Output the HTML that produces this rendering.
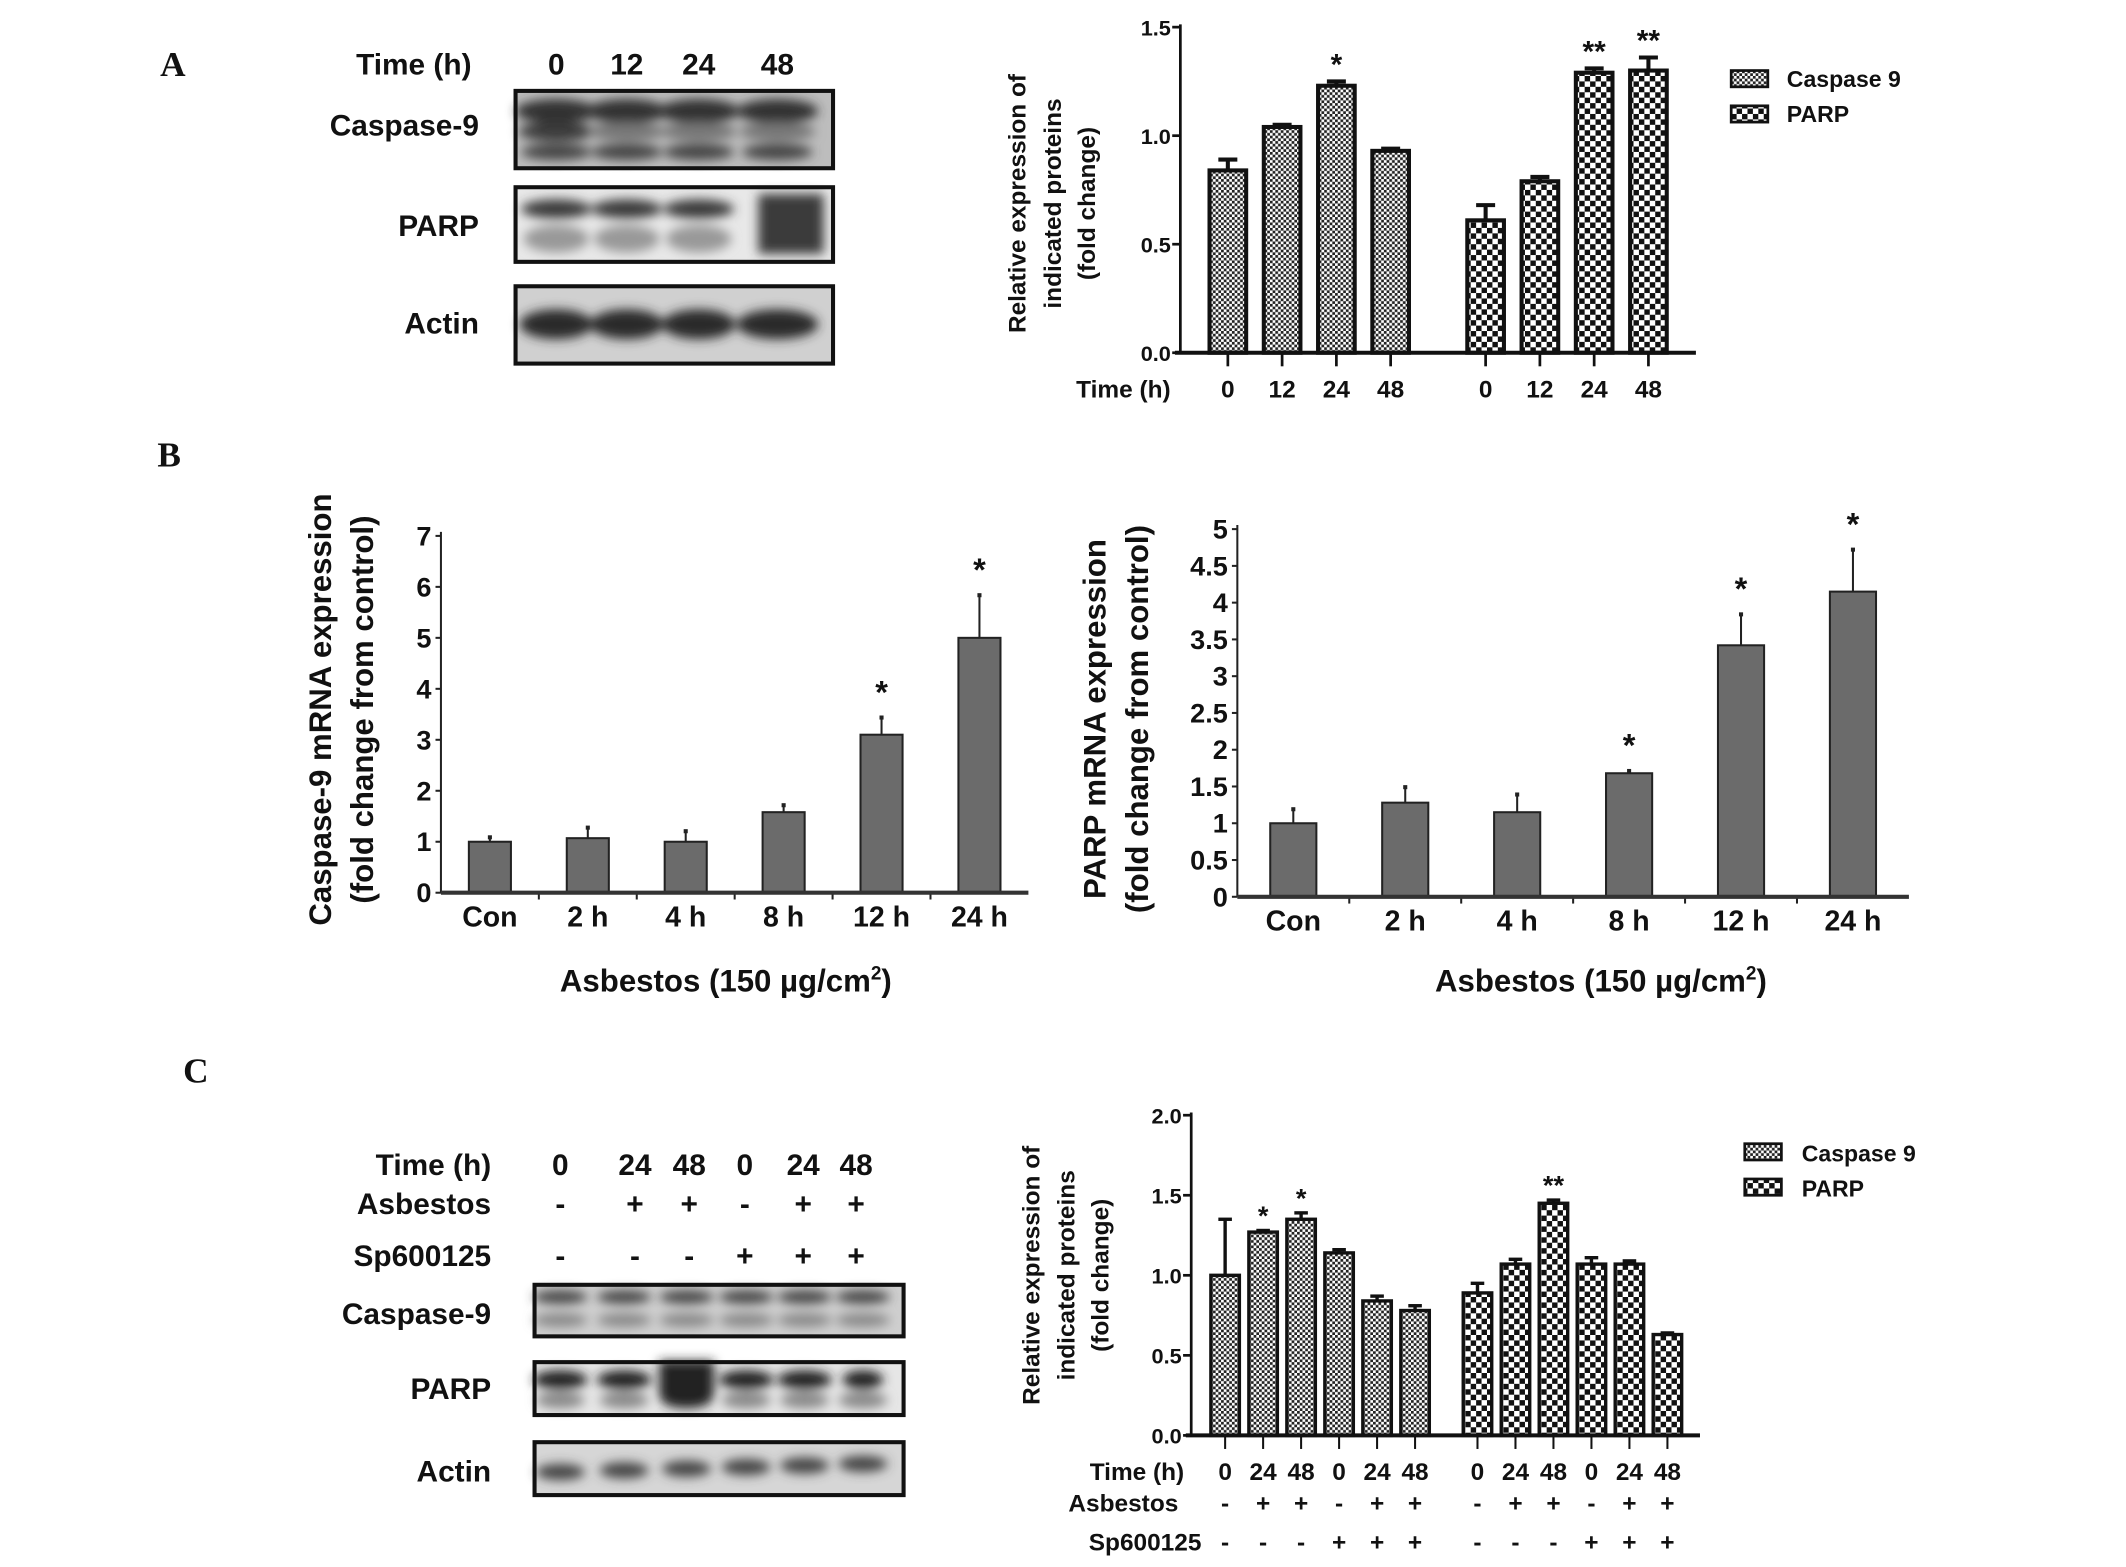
<!DOCTYPE html>
<html><head><meta charset="utf-8"><style>
html,body{margin:0;padding:0;background:#fff}
svg{display:block}
text{font-family:"Liberation Sans",sans-serif;font-weight:bold;fill:#111}
.let{font-family:"Liberation Serif",serif;font-size:26px}
</style></head><body>
<svg id="fig" width="2126" height="1567" viewBox="0 0 1567 1155" preserveAspectRatio="none" xmlns="http://www.w3.org/2000/svg">
<defs>
<pattern id="pc" width="4" height="4" patternUnits="userSpaceOnUse"><rect width="4" height="4" fill="#fff"/><rect width="2" height="2" fill="#222"/><rect x="2" y="2" width="2" height="2" fill="#222"/></pattern>
<pattern id="pp" width="8" height="8" patternUnits="userSpaceOnUse"><rect width="8" height="8" fill="#fff"/><rect width="4" height="4" fill="#111"/><rect x="4" y="4" width="4" height="4" fill="#111"/></pattern>
<filter id="blur" x="-20%" y="-50%" width="140%" height="200%"><feGaussianBlur stdDeviation="4"/></filter>
</defs>
<text class="let" x="118" y="56">A</text>
<text class="let" x="116" y="344">B</text>
<text class="let" x="135" y="798">C</text>
<g id="blots"></g>
<g id="charts"></g>
</svg>
<script>
// ---- Panel A chart data ----
const aCats = ["0","12","24","48","0","12","24","48"];
const aCasp = [0.84,1.04,1.23,0.93];
const aCaspErr = [0.05,0.01,0.02,0.01];
const aParp = [0.61,0.79,1.29,1.30];
const aParpErr = [0.07,0.02,0.02,0.06];
const aSig = ["","","*","","","","**","**"];
const aTicks = ["0.0","0.5","1.0","1.5"];
// ---- Panel B left ----
const bCats = ["Con","2 h","4 h","8 h","12 h","24 h"];
const bCasp = [1.0,1.07,1.0,1.58,3.1,5.0];
const bCaspErr = [0.1,0.22,0.22,0.15,0.35,0.85];
const bCaspSig = ["","","","","*","*"];
const bCaspTicks = ["0","1","2","3","4","5","6","7"];
// ---- Panel B right ----
const bParp = [1.0,1.28,1.15,1.68,3.42,4.15];
const bParpErr = [0.2,0.22,0.25,0.04,0.43,0.58];
const bParpSig = ["","","","*","*","*"];
const bParpTicks = ["0","0.5","1","1.5","2","2.5","3","3.5","4","4.5","5"];
// ---- Panel C chart ----
const cTime = ["0","24","48","0","24","48","0","24","48","0","24","48"];
const cAsb = ["-","+","+","-","+","+","-","+","+","-","+","+"];
const cSp = ["-","-","-","+","+","+","-","-","-","+","+","+"];
const cCasp = [1.0,1.27,1.35,1.14,0.84,0.78];
const cCaspErr = [0.35,0.01,0.04,0.02,0.03,0.03];
const cParp = [0.89,1.07,1.45,1.07,1.07,0.63];
const cParpErr = [0.06,0.03,0.02,0.04,0.02,0.01];
const cSig = ["","*","*","","","","","","**","","",""];
const cTicks = ["0.0","0.5","1.0","1.5","2.0"];

const NS="http://www.w3.org/2000/svg";
const charts=document.getElementById('charts');
const blots=document.getElementById('blots');
function mk(tag,at,parent){const e=document.createElementNS(NS,tag);for(const k in at)e.setAttribute(k,at[k]);(parent||charts).appendChild(e);return e;}
function txt(x,y,s,size,anchor,parent,extra){const t=mk('text',Object.assign({x:x,y:y,'font-size':size,'text-anchor':anchor||'middle'},extra||{}),parent);t.textContent=s;return t;}

function scale(d0,d1,r0,r1){return v=>r0+(v-d0)/(d1-d0)*(r1-r0);}

// ---------- Panel A chart ----------
(function(){
 const y=scale(0,1.5,260,20);
 const x=i=>i<4?905+i*40:1095+(i-4)*40;
 const vals=aCasp.concat(aParp), errs=aCaspErr.concat(aParpErr);
 vals.forEach((v,i)=>{
  const cx=x(i),top=y(v),w=27;
  let el=mk('line',{x1:cx,x2:cx,y1:top,y2:y(v+errs[i]),stroke:'#111','stroke-width':3});
  
  el=mk('line',{x1:cx-7,x2:cx+7,y1:y(v+errs[i]),y2:y(v+errs[i]),stroke:'#111','stroke-width':3});
  
  el=mk('rect',{x:cx-w/2,y:top,width:w,height:y(0)-top,fill:i<4?'url(#pc)':'url(#pp)',stroke:'#111','stroke-width':3});
  
  if(aSig[i]){el=txt(cx,y(v+errs[i])-5,aSig[i],22,'middle');}
  mk('line',{x1:cx,x2:cx,y1:260,y2:270,stroke:'#111','stroke-width':2});
  el=txt(cx,293,aCats[i],18,'middle');
 });
 let el=mk('line',{x1:870,x2:870,y1:18,y2:261,stroke:'#111','stroke-width':2});
 
 el=mk('line',{x1:866,x2:1250,y1:260,y2:260,stroke:'#111','stroke-width':3});
 
 aTicks.forEach(t=>{const yy=y(parseFloat(t));mk('line',{x1:864,x2:870,y1:yy,y2:yy,stroke:'#111','stroke-width':2});
  el=txt(863,yy+6,t,16,'end');});
 el=txt(828,293,"Time (h)",18,'middle');
 [["Relative expression of",756],["indicated proteins",782],["(fold change)",807]].forEach(a=>{
  el=txt(a[1],150,a[0],18,'middle',null,{transform:`rotate(-90 ${a[1]} 150)`});});
 el=mk('rect',{x:1276,y:52,width:27,height:12,fill:'url(#pc)',stroke:'#111','stroke-width':2});
 el=txt(1317,64,"Caspase 9",17,'start');
 el=mk('rect',{x:1276,y:78,width:27,height:12,fill:'url(#pp)',stroke:'#111','stroke-width':2});
 el=txt(1317,90,"PARP",17,'start');
})();

// ---------- Panel B charts ----------
function bChart(o){
 const y=scale(0,o.max,o.y0,o.y1);
 const step=(o.xEnd-o.x0)/6;
 o.vals.forEach((v,i)=>{
  const cx=o.x0+step*(i+0.5),top=y(v),w=o.w;
  let el=mk('line',{x1:cx,x2:cx,y1:top,y2:y(v+o.errs[i]),stroke:'#222','stroke-width':1.5});
  
  el=mk('rect',{x:cx-1.5,y:y(v+o.errs[i])-1,width:3,height:3,fill:'#222'});
  el=mk('rect',{x:cx-w/2,y:top,width:w,height:o.y0-top,fill:'#6b6b6b',stroke:'#222','stroke-width':1.5});
  
  if(o.sig[i]){el=txt(cx,y(v+o.errs[i])-10,'*',24,'middle');}
  el=txt(cx,o.y0+25,o.cats[i],21,'middle');
  if(i>0)mk('line',{x1:o.x0+step*i,x2:o.x0+step*i,y1:o.y0,y2:o.y0+5,stroke:'#222','stroke-width':1.5});
 });
 let el=mk('line',{x1:o.x0,x2:o.x0,y1:o.y1-3,y2:o.y0,stroke:'#222','stroke-width':1.5});
 
 el=mk('line',{x1:o.x0,x2:o.xEnd,y1:o.y0,y2:o.y0,stroke:'#333','stroke-width':3});
 
 o.ticks.forEach(t=>{const yy=y(parseFloat(t));mk('line',{x1:o.x0-4,x2:o.x0,y1:yy,y2:yy,stroke:'#222','stroke-width':1.5});
  el=txt(o.x0-7,yy+7,t,20,'end');});
 o.title.forEach((s,k)=>{const tx=o.tx+k*31;el=txt(tx,o.ty,s,23,'middle',null,{transform:`rotate(-90 ${tx} ${o.ty})`});});
 el=mk('text',{x:o.xt,y:731,'font-size':23,'text-anchor':'middle'});
 el.innerHTML='Asbestos (150 µg/cm<tspan font-size="14" dy="-9">2</tspan><tspan dy="9">)</tspan>';
 
}
bChart({id:'b-caspase',vals:bCasp,errs:bCaspErr,sig:bCaspSig,cats:bCats,ticks:bCaspTicks,max:7,y0:658,y1:395,x0:325,xEnd:758,w:31,
 title:["Caspase-9 mRNA expression","(fold change from control)"],tx:244,ty:523,xt:535});
bChart({id:'b-parp',vals:bParp,errs:bParpErr,sig:bParpSig,cats:bCats,ticks:bParpTicks,max:5,y0:661,y1:390,x0:912,xEnd:1407,w:34,
 title:["PARP mRNA expression","(fold change from control)"],tx:815,ty:530,xt:1180});

// ---------- Panel C chart ----------
(function(){
 const y=scale(0,2,1058,822);
 const x=i=>i<6?903+i*28:1089+(i-6)*28;
 const vals=cCasp.concat(cParp), errs=cCaspErr.concat(cParpErr);
 vals.forEach((v,i)=>{
  const cx=x(i),top=y(v),w=21;
  let el=mk('line',{x1:cx,x2:cx,y1:top,y2:y(v+errs[i]),stroke:'#111','stroke-width':2.5});
  
  el=mk('line',{x1:cx-5,x2:cx+5,y1:y(v+errs[i]),y2:y(v+errs[i]),stroke:'#111','stroke-width':2.5});
  
  el=mk('rect',{x:cx-w/2,y:top,width:w,height:y(0)-top,fill:i<6?'url(#pc)':'url(#pp)',stroke:'#111','stroke-width':2.5});
  
  if(cSig[i]){el=txt(cx,y(v+errs[i])-4,cSig[i],20,'middle');}
  mk('line',{x1:cx,x2:cx,y1:1058,y2:1068,stroke:'#111','stroke-width':1.5});
  el=txt(cx,1091,cTime[i],18,'middle');
  el=txt(cx,1114,cAsb[i],18,'middle');
  el=txt(cx,1143,cSp[i],18,'middle');
 });
 let el=mk('line',{x1:878,x2:878,y1:820,y2:1059,stroke:'#111','stroke-width':2});
 
 el=mk('line',{x1:874,x2:1253,y1:1058,y2:1058,stroke:'#111','stroke-width':3});
 
 cTicks.forEach(t=>{const yy=y(parseFloat(t));mk('line',{x1:872,x2:878,y1:yy,y2:yy,stroke:'#111','stroke-width':2});
  el=txt(871,yy+6,t,16,'end');});
 [["Time (h)",838,1091],["Asbestos",828,1114],["Sp600125",844,1143]].forEach(a=>{el=txt(a[1],a[2],a[0],18,'middle');});
 [["Relative expression of",766],["indicated proteins",792],["(fold change)",817]].forEach(a=>{
  el=txt(a[1],940,a[0],18,'middle',null,{transform:`rotate(-90 ${a[1]} 940)`});});
 el=mk('rect',{x:1286,y:843,width:27,height:12,fill:'url(#pc)',stroke:'#111','stroke-width':2});
 el=txt(1328,856,"Caspase 9",17,'start');
 el=mk('rect',{x:1286,y:869,width:27,height:12,fill:'url(#pp)',stroke:'#111','stroke-width':2});
 el=txt(1328,882,"PARP",17,'start');
})();

// ---------- Western blots (images) ----------
function blot(name,x0,y0,w,h,bands,bg){
 const g=mk('g',{},blots);
 
 mk('rect',{x:x0,y:y0,width:w,height:h,fill:bg||'#d8d8d8'},g);
 const inner=mk('g',{filter:'url(#blur)'},g);
 bands.forEach(b=>{if(b[5]==='r')mk('rect',{x:b[0]-b[2],y:b[1]-b[3],width:2*b[2],height:2*b[3],fill:b[4]},inner);
  else mk('ellipse',{cx:b[0],cy:b[1],rx:b[2],ry:b[3],fill:b[4]},inner);});
 mk('rect',{x:x0,y:y0,width:w,height:h,fill:'none',stroke:'#111','stroke-width':3},g);
}
// Panel A blots
const aLanes=[410,462,515,573];
let bb=[];aLanes.forEach((c,i)=>{bb.push([c,82,30,9,'#333'],[c,97,28,7,i==0?'#3a3a3a':'#777'],[c,112,26,6,'#444']);});
blot('a-caspase9-blot',380,67,234,57,bb,'#bdbdbd');
bb=[];aLanes.slice(0,3).forEach(c=>{bb.push([c,154,26,7,'#3a3a3a'],[c,176,24,10,'#999']);});bb.push([583,165,24,22,'#3a3a3a','r']);
blot('a-parp-blot',380,138,234,55,bb,'#e8e8e8');
bb=aLanes.map((c,i)=>[c,239,i==3?30:27,11,'#2a2a2a']);
blot('a-actin-blot',380,211,234,57,bb,'#d0d0d0');
function lbl(x,y,s,size,name,anchor){const t=txt(x,y,s,size,anchor||'end',blots);}
lbl(353,100,"Caspase-9",22,'a-caspase9-label');lbl(353,174,"PARP",22,'a-parp-label');lbl(353,246,"Actin",22,'a-actin-label');
lbl(305,55,"Time (h)",22,'a-time-label','middle');
["0","12","24","48"].forEach((s,i)=>lbl(aLanes[i],55,s,22,'a-lane-label','middle'));
// Panel C blots
const cLanes=[413,460,506,550,593,636];
bb=[];cLanes.forEach(c=>{bb.push([c,956,20,5,'#444'],[c,973,20,5,'#888']);});
blot('c-caspase9-blot',394,947,272,38,bb,'#cfcfcf');
bb=[];cLanes.forEach((c,i)=>{bb.push([c,1017,i==5?15:20,i==2?14:7,'#222',i==2?'r':''],[c,1032,18,6,i==2?'#222':'#888']);});
blot('c-parp-blot',394,1004,272,39,bb,'#e6e6e6');
bb=cLanes.map((c,i)=>[c,1085-i*1.2,18,6,'#444']);
blot('c-actin-blot',394,1063,272,39,bb,'#d6d6d6');
lbl(362,866,"Time (h)",22,'c-time-label');lbl(362,895,"Asbestos",22,'c-asbestos-label');lbl(362,933,"Sp600125",22,'c-sp600125-label');
lbl(362,976,"Caspase-9",22,'c-caspase9-label');lbl(362,1031,"PARP",22,'c-parp-label');lbl(362,1092,"Actin",22,'c-actin-label');
const cHead=[413,468,508,549,592,631];
["0","24","48","0","24","48"].forEach((s,i)=>lbl(cHead[i],866,s,22,'c-lane-time','middle'));
["-","+","+","-","+","+"].forEach((s,i)=>lbl(cHead[i],895,s,22,'c-lane-asbestos','middle'));
["-","-","-","+","+","+"].forEach((s,i)=>lbl(cHead[i],933,s,22,'c-lane-sp600125','middle'));
</script>
</body></html>
